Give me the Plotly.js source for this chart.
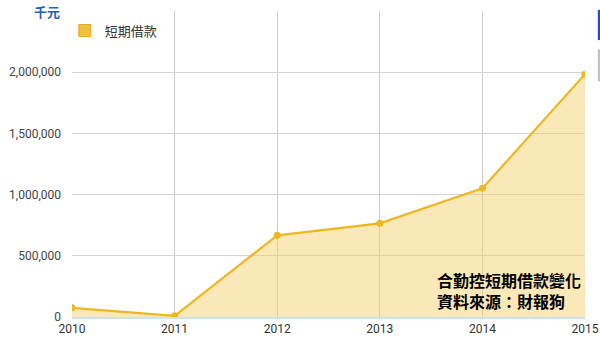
<!DOCTYPE html>
<html>
<head>
<meta charset="utf-8">
<script src="https://cdn.plot.ly/plotly-3.0.1.min.js"></script>
<style>html,body{margin:0;padding:0;background:#fff;}#chart{width:600px;height:340px;}</style>
</head>
<body>
<div id="chart"></div>
<script>
const years = [2010, 2011, 2012, 2013, 2014, 2015];
const shortTermLoans = [75000, 10000, 667000, 765000, 1051000, 1984000];
const seriesName = '短期借款';
const yTickVals = [0, 500000, 1000000, 1500000, 2000000, 2500000];
const yTickText = ['0', '500,000', '1,000,000', '1,500,000', '2,000,000', ''];
const unitLabel = '千元';
const noteLines = ['合勤控短期借款變化', '資料來源：財報狗'];

const trace = {
  x: years,
  y: shortTermLoans,
  name: seriesName,
  type: 'scatter',
  mode: 'lines+markers',
  fill: 'tozeroy',
  fillcolor: 'rgba(245,205,100,0.45)',
  line: {color: '#ecb722', width: 2.2},
  marker: {color: '#ecb722', size: 7},
  showlegend: false
};

const legendTrace = {
  x: [null], y: [null],
  name: seriesName,
  type: 'scatter',
  mode: 'markers',
  marker: {symbol: 'square', size: 12, color: '#f0c040', line: {color: '#e2a81e', width: 1}},
  showlegend: true
};

const layout = {
  width: 600, height: 340,
  margin: {l: 72, r: 15, t: 11, b: 23},
  paper_bgcolor: '#fff', plot_bgcolor: '#fff',
  font: {family: 'Roboto, Arial, sans-serif', size: 12, color: '#444'},
  xaxis: {
    range: [2010, 2015],
    tickvals: years,
    ticktext: years.map(String),
    showgrid: true, gridcolor: '#cccccc', gridwidth: 1,
    zeroline: false,
    showline: true, linecolor: '#cfe0f0', linewidth: 2,
    ticks: '', ticklen: 0,
    tickfont: {size: 12, color: '#333'}
  },
  yaxis: {
    range: [0, 2500000],
    tickvals: yTickVals,
    ticktext: yTickText,
    showgrid: true, gridcolor: '#d3d3d3', gridwidth: 1,
    zeroline: false, showline: false,
    ticks: '', ticklen: 0,
    ticklabelstandoff: 10,
    tickfont: {size: 12, color: '#444'}
  },
  legend: {
    x: -0.014, y: 0.985, xanchor: 'left', yanchor: 'top',
    bgcolor: 'rgba(0,0,0,0)',
    font: {family: '"Noto Sans CJK TC", sans-serif', size: 13, color: '#333'},
    itemwidth: 30
  },
  annotations: [
    {xref: 'paper', yref: 'paper', x: -0.0195, y: 1.0, xanchor: 'right', yanchor: 'middle',
     text: '<b>' + unitLabel + '</b>', showarrow: false,
     font: {family: '"Noto Sans CJK TC", sans-serif', size: 13, color: '#1a62c6'}},
    {xref: 'paper', yref: 'paper', x: 0.708, y: 0.085, xanchor: 'left', yanchor: 'middle',
     text: '<b>' + noteLines[0] + '</b><br><b>' + noteLines[1] + '</b>', showarrow: false, align: 'left',
     font: {family: '"Noto Sans CJK TC", sans-serif', size: 16, color: '#000'}}
  ],
  shapes: [
    {type: 'rect', xref: 'paper', yref: 'paper', x0: 1.025, x1: 1.03, y0: 0.905, y1: 1.004,
     fillcolor: '#1f4fbf', line: {width: 0}},
    {type: 'rect', xref: 'paper', yref: 'paper', x0: 1.025, x1: 1.03, y0: 0.77, y1: 0.875,
     fillcolor: '#c0c0c0', line: {width: 0}}
  ]
};

Plotly.newPlot('chart', [trace, legendTrace], layout, {displayModeBar: false, staticPlot: true});
</script>
</body>
</html>
